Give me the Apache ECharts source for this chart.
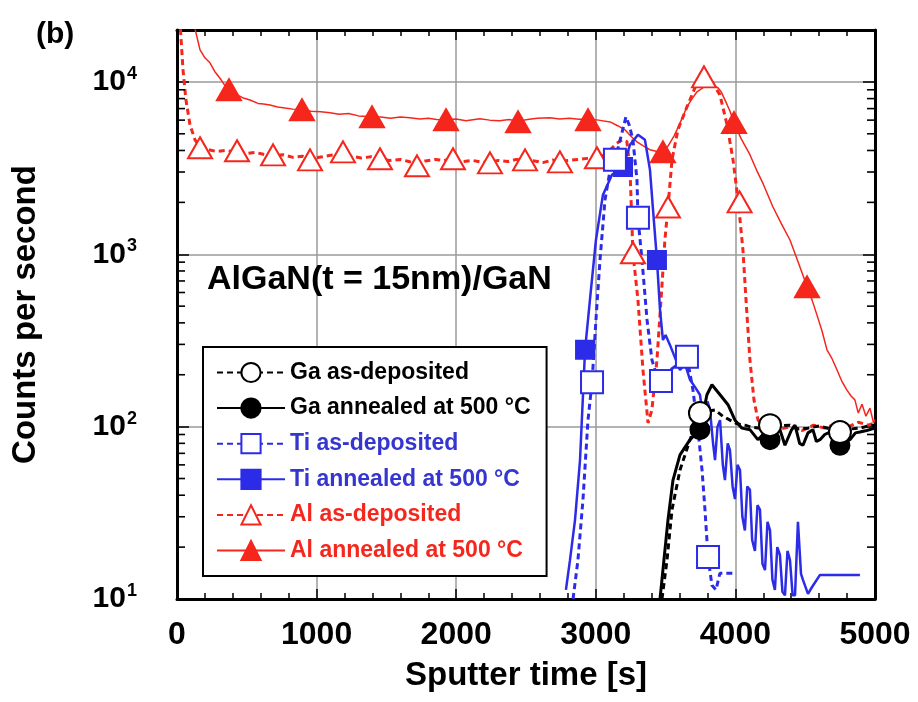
<!DOCTYPE html>
<html>
<head>
<meta charset="utf-8">
<script src="https://cdn.jsdelivr.net/npm/echarts@6/dist/echarts.min.js"></script>
<style>html,body{margin:0;padding:0;background:#fff}#c{width:918px;height:702px}</style>
</head>
<body>
<div id="c"></div>
<script>
// ---------- DATA (sputter time [s], counts per second) ----------
const xTicks = [0, 1000, 2000, 3000, 4000, 5000];
const yDecades = [10, 100, 1000, 10000];
const yMinorMultipliers = [2, 3, 4, 5, 6, 7, 8, 9];

const seriesNames = [
  'Ga as-deposited', 'Ga annealed at 500 °C',
  'Ti as-deposited', 'Ti annealed at 500 °C',
  'Al as-deposited', 'Al annealed at 500 °C'
];

const alAnn = [[0,45000],[60,30000],[129,20300],[165,15350],[200,13800],[236,12900],[270,11500],[308,10500],[340,9600],[372,9000],[420,8500],[470,8100],[523,7850],[580,7500],[620,7450],[666,7350],[720,7150],[774,7050],[830,6950],[895,6890],[960,6750],[1030,6700],[1096,6620],[1160,6500],[1230,6550],[1300,6350],[1397,6270],[1460,6250],[1530,6150],[1600,6250],[1669,6190],[1740,6100],[1800,6150],[1860,6050],[1927,6030],[2000,6100],[2070,5950],[2170,6110],[2240,6000],[2310,5950],[2380,6050],[2443,5900],[2510,6050],[2580,6150],[2672,6190],[2740,6100],[2810,6150],[2880,6080],[2944,6100],[3020,6000],[3102,5860],[3160,5550],[3209,5270],[3250,4850],[3295,4490],[3340,4250],[3388,4040],[3440,3950],[3481,3930],[3510,4150],[3531,4430],[3560,4850],[3581,5270],[3620,6200],[3653,7160],[3690,8000],[3725,8760],[3770,9300],[3818,9620],[3850,9500],[3875,9240],[3900,8700],[3925,7870],[3960,6800],[3990,5800],[4040,4700],[4104,3780],[4150,3100],[4200,2550],[4269,1880],[4330,1500],[4391,1210],[4450,900],[4513,650],[4550,540],[4584,445],[4620,360],[4656,279],[4690,250],[4728,213],[4760,185],[4799,163],[4830,150],[4856,143],[4880,120],[4907,135],[4935,115],[4964,128],[4990,105],[5000,110]];
const alAnnMarks = [[372,9000],[895,6890],[1397,6270],[1927,6030],[2443,5860],[2944,6030],[3481,3930],[3990,5800],[4513,647]];

const alDep = [[0,45000],[25,20000],[43,11750],[64,7870],[93,5640],[129,4610],[165,4200],[220,4050],[280,3950],[350,4000],[430,3920],[500,3850],[560,3900],[620,3800],[688,3720],[760,3780],[830,3650],[900,3700],[953,3560],[1020,3650],[1100,3750],[1189,3850],[1250,3700],[1320,3620],[1390,3680],[1454,3580],[1520,3500],[1600,3550],[1660,3450],[1719,3350],[1780,3480],[1850,3550],[1910,3500],[1977,3580],[2050,3450],[2120,3500],[2180,3420],[2242,3430],[2300,3500],[2370,3450],[2430,3550],[2493,3500],[2560,3480],[2620,3400],[2690,3520],[2743,3450],[2800,3500],[2870,3550],[2940,3600],[3008,3650],[3060,3750],[3102,4040],[3150,4400],[3188,4610],[3223,4500],[3245,3090],[3266,1020],[3302,543],[3338,213],[3374,105],[3402,125],[3438,244],[3467,543],[3495,1210],[3517,1880],[3546,3530],[3588,5270],[3653,7160],[3710,9240],[3775,11000],[3832,10000],[3889,8410],[3940,5640],[3983,3530],[4019,2070],[4054,1060],[4076,543],[4104,244],[4133,143],[4162,109],[4200,104],[4248,102],[4320,97],[4400,100],[4480,95],[4560,102],[4640,98],[4720,104],[4800,99],[4880,106],[4950,102],[5000,105]];
const alDepMarks = [[165,4150],[430,3985],[688,3775],[953,3530],[1189,3925],[1454,3580],[1719,3260],[1977,3580],[2242,3390],[2493,3530],[2743,3435],[3008,3630],[3266,1020],[3517,1880],[3775,10700],[4030,2015]];

const tiDep = [[2837,10],[2872,16.8],[2908,37.6],[2944,109],[2973,181],[3001,416],[3030,927],[3066,2070],[3100,3000],[3137,3530],[3180,4800],[3216,6270],[3240,5600],[3266,4610],[3295,2700],[3302,1627],[3331,927],[3367,416],[3402,244],[3435,200],[3467,184],[3500,195],[3531,213],[3590,230],[3653,254],[3696,163],[3732,96],[3761,56],[3782,33],[3804,17.5],[3832,12],[3861,11.3],[3889,14.1],[3983,14.1]];
const tiDepMarks = [[2973,181],[3137,3530],[3302,1627],[3467,184],[3653,254],[3804,17.5]];

const tiAnn = [[2786,11.3],[2815,16.8],[2851,28.7],[2887,64],[2923,279],[2958,543],[3001,1210],[3051,2210],[3116,2890],[3195,3210],[3245,4310],[3302,4930],[3352,4610],[3388,3090],[3410,1810],[3438,927],[3460,475],[3481,318],[3500,340],[3531,298],[3560,260],[3603,213],[3640,230],[3675,187],[3710,170],[3746,153],[3782,96],[3800,140],[3818,125],[3840,80],[3854,64],[3872,100],[3890,109],[3910,60],[3925,49],[3945,80],[3961,73],[3980,45],[3997,38],[4015,60],[4033,56],[4050,30],[4068,25],[4085,45],[4104,43],[4120,22],[4140,19],[4158,35],[4176,33],[4194,16],[4212,14.7],[4230,28],[4248,25],[4265,13],[4283,11.3],[4300,20],[4319,18],[4337,11],[4355,10.5],[4373,19],[4391,16.8],[4410,10.5],[4427,10.5],[4448,28],[4470,14],[4484,12.9],[4520,10.7],[4548,11.7],[4606,13.8],[4892,13.8]];
const tiAnnMarks = [[2923,279],[3195,3210],[3438,927]];

const gaDep = [[3474,10],[3510,16.8],[3546,33],[3603,56],[3675,84],[3746,120],[3800,123],[3854,125],[3910,115],[3961,109],[4010,104],[4068,102],[4120,99],[4176,98],[4248,99.5],[4320,101],[4391,102],[4450,97],[4520,98],[4600,101],[4680,97],[4770,93],[4830,97],[4892,98],[4950,101],[5000,102]];
const gaDepMarks = [[3746,120],[4248,102],[4749,93]];

const gaAnn = [[3460,10],[3488,16.8],[3517,28.7],[3553,49],[3603,68.6],[3675,84],[3746,96],[3796,153],[3832,175],[3890,153],[3947,134],[3997,109],[4047,98],[4104,96],[4161,84],[4200,90],[4248,84],[4290,92],[4319,96],[4355,78],[4400,95],[4427,102],[4460,80],[4484,78],[4520,92],[4555,96],[4580,82],[4606,84],[4640,90],[4677,93],[4720,80],[4749,78],[4780,82],[4820,84],[4860,92],[4892,93],[4940,95],[5000,98]];
const gaAnnMarks = [[3746,96],[4248,84],[4749,78]];

// ---------- STYLE ----------
const FONT = "'Liberation Sans', Arial, Helvetica, sans-serif";
const RED = '#f5261c', BLUE = '#2b2be8', BLACK = '#000';
const X_MIN = xTicks[0], X_MAX = xTicks[xTicks.length - 1];

// minor tick positions of the log axis (2..9 × each decade)
const yMinorLeft = [], yMinorRight = [];
yDecades.forEach(d => yMinorMultipliers.forEach(m => {
  if (d * m < 20000) { yMinorLeft.push([X_MIN, d * m]); yMinorRight.push([X_MAX, d * m]); }
}));

function lineSeries(name, data, color, dashed, width, symbol) {
  return {
    name, type: 'line', data, symbol, symbolSize: 20, showSymbol: false,
    lineStyle: { color, width, type: dashed ? [6, 4] : 'solid' },
    itemStyle: { color, borderColor: color, borderWidth: 2 },
    z: 3, silent: true
  };
}
function markSeries(name, data, color, symbol, size) {
  return {
    name, type: 'scatter', data, symbol, symbolSize: size,
    itemStyle: { color, borderColor: color, borderWidth: 2, opacity: 1 },
    z: 4, silent: true
  };
}
function tickSeries(data, offset) {
  return {
    type: 'scatter', name: '_ticks', data, symbol: 'rect', symbolSize: [8, 1.6],
    symbolOffset: [offset, 0], itemStyle: { color: BLACK, opacity: 1 },
    silent: true, z: 6, clip: false
  };
}

const axisLineStyle = { show: true, onZero: false, lineStyle: { color: BLACK, width: 3 } };
const tickStyle = { color: BLACK, width: 1.5 };

const chart = echarts.init(document.getElementById('c'), null, { renderer: 'canvas' });
chart.setOption({
  animation: false,
  backgroundColor: '#fff',
  textStyle: { fontFamily: FONT },
  title: [
    { text: '(b)', left: 36, top: 20, padding: 0, textStyle: { fontSize: 30, fontWeight: 'bold', color: BLACK, fontFamily: FONT } },
    { text: 'AlGaN(t = 15nm)/GaN', left: 207, top: 263, padding: 0, textStyle: { fontSize: 34, fontWeight: 'bold', color: BLACK, fontFamily: FONT } }
  ],
  grid: { left: 177, right: 43, top: 30, bottom: 103, containLabel: false },
  legend: {
    orient: 'vertical', left: 203, top: 347,
    padding: [14, 16, 14, 13],
    backgroundColor: '#fff', borderColor: BLACK, borderWidth: 2,
    itemWidth: 68, itemHeight: 24, itemGap: 12.6,
    selectedMode: false,
    textStyle: { fontSize: 23, fontWeight: 'bold', fontFamily: FONT },
    data: [
      { name: seriesNames[0], textStyle: { color: BLACK } },
      { name: seriesNames[1], textStyle: { color: BLACK } },
      { name: seriesNames[2], textStyle: { color: '#3535d0' } },
      { name: seriesNames[3], textStyle: { color: '#3535d0' } },
      { name: seriesNames[4], textStyle: { color: RED } },
      { name: seriesNames[5], textStyle: { color: RED } }
    ]
  },
  xAxis: [{
    type: 'value', min: X_MIN, max: X_MAX, interval: 1000, position: 'bottom',
    axisLine: axisLineStyle,
    axisTick: { show: true, inside: true, length: 10, lineStyle: tickStyle },
    minorTick: { show: true, splitNumber: 5, length: 6, lineStyle: tickStyle },
    splitLine: { show: true, lineStyle: { color: '#9a9a9a', width: 1.5 } },
    axisLabel: { fontSize: 32, fontWeight: 'bold', color: BLACK, margin: 20, fontFamily: FONT,
      formatter: v => String(v) },
    name: 'Sputter time [s]', nameLocation: 'middle', nameGap: 60,
    nameTextStyle: { fontSize: 33, fontWeight: 'bold', color: BLACK, fontFamily: FONT }
  }, {
    type: 'value', min: X_MIN, max: X_MAX, interval: 1000, position: 'top',
    axisLine: axisLineStyle,
    axisTick: { show: true, inside: true, length: 10, lineStyle: tickStyle },
    minorTick: { show: true, splitNumber: 5, length: 6, lineStyle: tickStyle },
    splitLine: { show: false }, axisLabel: { show: false }
  }],
  yAxis: [{
    type: 'log', logBase: 10, min: 10, max: 20000, position: 'left',
    axisLine: axisLineStyle,
    axisTick: { show: true, inside: true, length: 12, lineStyle: tickStyle },
    splitLine: { show: true, lineStyle: { color: '#9a9a9a', width: 1.5 } },
    axisLabel: {
      margin: 40, color: BLACK,
      formatter: function (v) {
        const e = Math.log10(v);
        if (Math.abs(e - Math.round(e)) > 1e-6) return '';
        return '{b|10}{s|' + Math.round(e) + '}';
      },
      rich: {
        b: { fontSize: 30, fontWeight: 'bold', color: BLACK, fontFamily: FONT },
        s: { fontSize: 18, fontWeight: 'bold', color: BLACK, fontFamily: FONT, padding: [0, 0, 16, 1] }
      }
    },
    name: 'Counts per second', nameLocation: 'middle', nameGap: 135,
    nameTextStyle: { fontSize: 33, fontWeight: 'bold', color: BLACK, fontFamily: FONT }
  }, {
    type: 'log', logBase: 10, min: 10, max: 20000, position: 'right',
    axisLine: axisLineStyle,
    axisTick: { show: true, inside: true, length: 12, lineStyle: tickStyle },
    splitLine: { show: false }, axisLabel: { show: false }
  }],
  series: [
    lineSeries(seriesNames[5], alAnn, RED, false, 1.5, 'triangle'),
    lineSeries(seriesNames[4], alDep, RED, true, 3, 'emptyTriangle'),
    lineSeries(seriesNames[3], tiAnn, BLUE, false, 2.5, 'rect'),
    lineSeries(seriesNames[2], tiDep, BLUE, true, 3, 'emptyRect'),
    lineSeries(seriesNames[1], gaAnn, BLACK, false, 3, 'circle'),
    lineSeries(seriesNames[0], gaDep, BLACK, true, 3, 'emptyCircle'),
    markSeries(seriesNames[5], alAnnMarks, RED, 'triangle', [24, 21]),
    markSeries(seriesNames[4], alDepMarks, RED, 'emptyTriangle', [24, 21]),
    markSeries(seriesNames[3], tiAnnMarks, BLUE, 'rect', 18),
    markSeries(seriesNames[2], tiDepMarks, BLUE, 'emptyRect', 22),
    markSeries(seriesNames[1], gaAnnMarks, BLACK, 'circle', 19),
    markSeries(seriesNames[0], gaDepMarks, BLACK, 'emptyCircle', 22),
    tickSeries(yMinorLeft, 4),
    tickSeries(yMinorRight, -4)
  ]
});
</script>
</body>
</html>
